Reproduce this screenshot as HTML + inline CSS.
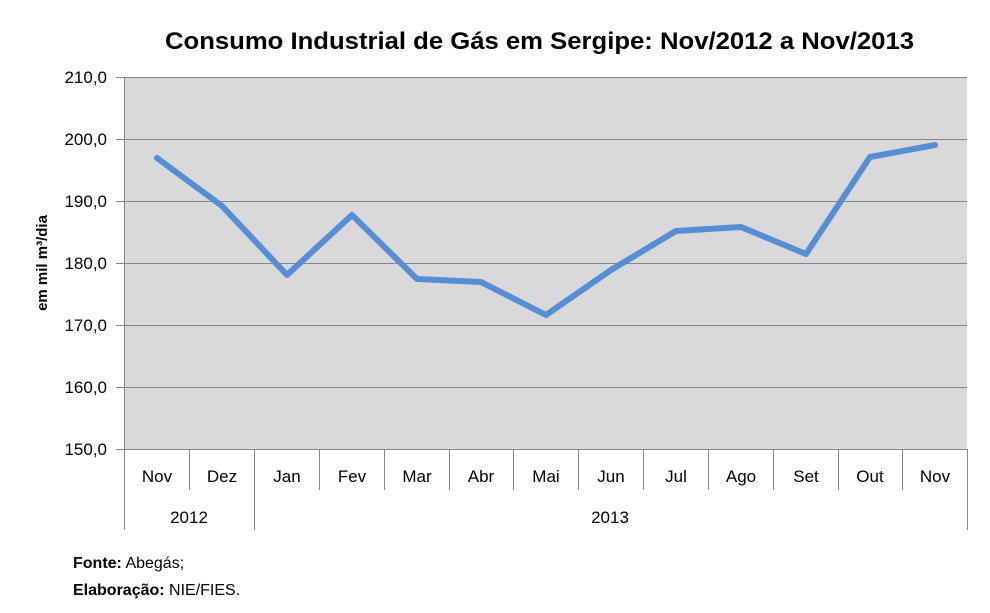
<!DOCTYPE html>
<html><head><meta charset="utf-8"><style>body{margin:0;background:#fff}svg{display:block}</style></head><body>
<svg width="990" height="613" xmlns="http://www.w3.org/2000/svg" font-family="Liberation Sans, sans-serif">
<rect width="990" height="613" fill="#fff"/>
<text x="165" y="49" font-size="24" font-weight="bold" fill="#000" textLength="749" lengthAdjust="spacingAndGlyphs">Consumo Industrial de Gás em Sergipe: Nov/2012 a Nov/2013</text>
<rect x="124" y="77" width="843" height="372" fill="#d9d9d9"/>
<g stroke="#868686" stroke-width="1">
<line x1="124" y1="77.5" x2="967" y2="77.5"/><line x1="124" y1="139.5" x2="967" y2="139.5"/>
<line x1="124" y1="201.5" x2="967" y2="201.5"/><line x1="124" y1="263.5" x2="967" y2="263.5"/>
<line x1="124" y1="325.5" x2="967" y2="325.5"/><line x1="124" y1="387.5" x2="967" y2="387.5"/>
<line x1="116" y1="449.5" x2="967" y2="449.5"/>
<line x1="124.5" y1="77" x2="124.5" y2="530"/>
<line x1="116" y1="77.5" x2="124" y2="77.5"/><line x1="116" y1="139.5" x2="124" y2="139.5"/><line x1="116" y1="201.5" x2="124" y2="201.5"/><line x1="116" y1="263.5" x2="124" y2="263.5"/><line x1="116" y1="325.5" x2="124" y2="325.5"/><line x1="116" y1="387.5" x2="124" y2="387.5"/>
<line x1="189.5" y1="449" x2="189.5" y2="490"/><line x1="254.5" y1="449" x2="254.5" y2="530"/>
<line x1="319.5" y1="449" x2="319.5" y2="490"/><line x1="384.5" y1="449" x2="384.5" y2="490"/>
<line x1="449.5" y1="449" x2="449.5" y2="490"/><line x1="513.5" y1="449" x2="513.5" y2="490"/>
<line x1="578.5" y1="449" x2="578.5" y2="490"/><line x1="643.5" y1="449" x2="643.5" y2="490"/>
<line x1="708.5" y1="449" x2="708.5" y2="490"/><line x1="773.5" y1="449" x2="773.5" y2="490"/>
<line x1="838.5" y1="449" x2="838.5" y2="490"/><line x1="902.5" y1="449" x2="902.5" y2="490"/>
<line x1="967.5" y1="449" x2="967.5" y2="530"/>
</g>
<g font-size="17" text-anchor="end" fill="#000">
<text x="107" y="83">210,0</text><text x="107" y="145">200,0</text><text x="107" y="207">190,0</text><text x="107" y="269">180,0</text><text x="107" y="331">170,0</text><text x="107" y="393">160,0</text><text x="107" y="455">150,0</text>
</g>
<text transform="translate(47,263) rotate(-90)" text-anchor="middle" font-size="15" font-weight="bold">em mil m³/dia</text>
<g font-size="17" text-anchor="middle" fill="#000">
<text x="157" y="482">Nov</text><text x="222" y="482">Dez</text><text x="287" y="482">Jan</text><text x="352" y="482">Fev</text><text x="417" y="482">Mar</text><text x="481" y="482">Abr</text><text x="546" y="482">Mai</text><text x="611" y="482">Jun</text><text x="676" y="482">Jul</text><text x="741" y="482">Ago</text><text x="806" y="482">Set</text><text x="870" y="482">Out</text><text x="935" y="482">Nov</text>
<text x="189" y="523">2012</text><text x="610" y="523">2013</text>
</g>
<polyline fill="none" stroke="#558ed5" stroke-width="6" stroke-linejoin="round" stroke-linecap="round"
points="157,158 222,206 287,275 352,215 417,279 481,282 546,315 611,270 676,231 741,227 806,254 870,157 935,145"/>
<text x="73" y="568" font-size="16"><tspan font-weight="bold">Fonte:</tspan> Abegás;</text>
<text x="73" y="595" font-size="16"><tspan font-weight="bold">Elaboração:</tspan> NIE/FIES.</text>
</svg>
</body></html>
